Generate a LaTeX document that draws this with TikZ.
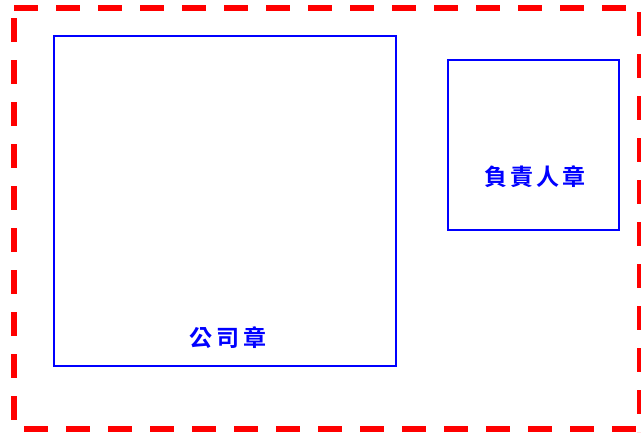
\documentclass[tikz,border=0pt]{standalone}
\usepackage{fontspec}
\newfontfamily\cjk{Noto Sans CJK TC}[BoldFont={* Bold}]
\begin{document}
\begin{tikzpicture}[x=1pt,y=-1pt,
  frame/.style={draw=red,line width=6pt,dash pattern=on 24pt off 18pt,line cap=butt},
  seal/.style={draw=blue,line width=2pt,inner sep=0pt},
  lbl/.style={text=blue,font=\cjk\bfseries\fontsize{23}{26}\selectfont,inner sep=0pt}]
\useasboundingbox (0,0) rectangle (641,432);
% dashed frame, drawn side by side
\coordinate (tl) at (14,8);
\coordinate (tr) at (639.5,8);
\coordinate (ls) at (14,18);
\coordinate (le) at (14,432);
\coordinate (bs) at (24,428.5);
\coordinate (be) at (641,428.5);
\coordinate (rs) at (639.5,12);
\coordinate (re) at (639.5,432);
\draw[frame] (tl) -- (tr);
\draw[frame] (ls) -- (le);
\draw[frame] (bs) -- (be);
\draw[frame] (rs) -- (re);
% seal boxes
\node[seal,minimum width=342pt,minimum height=330pt] (company) at (225,201) {};
\node[seal,minimum width=171pt,minimum height=170pt] (person) at (533.5,145) {};
\node[lbl] (companylbl) at (228,338) {公\hspace{4pt}司\hspace{4pt}章};
\node[lbl] (personlbl) at (535,177) {負\hspace{3pt}責\hspace{3pt}人\hspace{3pt}章};
\end{tikzpicture}
\end{document}
